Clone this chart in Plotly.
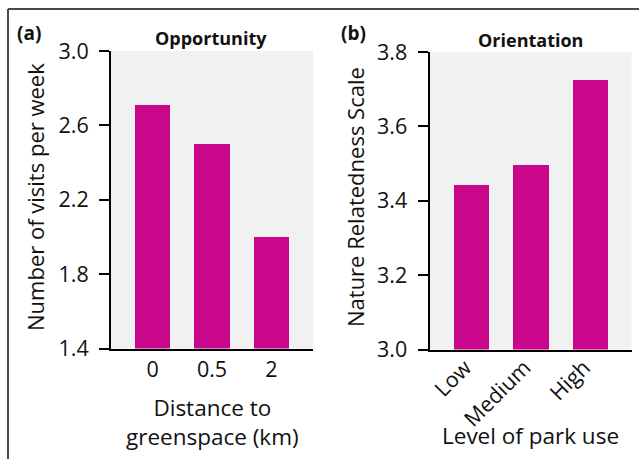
import plotly.graph_objects as go

# Data
distance_labels = ["0", "0.5", "2"]
visits_per_week = [2.71, 2.50, 2.00]

park_use_labels = ["Low", "Medium", "High"]
nature_relatedness = [3.443, 3.497, 3.725]

BAR = "#C8078A"
BG = "#F1F1F1"
FONT = "Open Sans"
TXT = "#111111"
W, H = 639, 459

def px_x(p):
    return p / W

def px_y(p):
    return 1 - p / H

fig = go.Figure()
fig.add_trace(go.Bar(x=list(range(3)), y=visits_per_week, marker_color=BAR, width=0.6,
                     xaxis="x", yaxis="y", showlegend=False, hoverinfo="skip"))
fig.add_trace(go.Bar(x=list(range(3)), y=nature_relatedness, marker_color=BAR, width=0.6,
                     xaxis="x2", yaxis="y2", showlegend=False, hoverinfo="skip"))

axis_common = dict(showgrid=False, zeroline=False, showline=True, linecolor="black",
                   linewidth=2, mirror=False, automargin=False,
                   tickfont=dict(family=FONT, size=21.5, color=TXT))

fig.update_layout(
    template="none",
    width=W, height=H, autosize=False,
    margin=dict(l=0, r=0, t=0, b=0, pad=0),
    paper_bgcolor="white",
    plot_bgcolor=BG,
    font=dict(family=FONT, color=TXT, size=20),
    bargap=0,
    xaxis=dict(domain=[px_x(111), px_x(313)], anchor="y", range=[-0.7, 2.7],
               tickmode="array", tickvals=[0, 1, 2], ticktext=distance_labels,
               ticks="", ticklabelstandoff=1, **axis_common),
    yaxis=dict(domain=[px_y(348.5), px_y(51)], anchor="x", range=[1.4, 3.0],
               tickmode="array", tickvals=[1.4, 1.8, 2.2, 2.6, 3.0],
               ticktext=["1.4", "1.8", "2.2", "2.6", "3.0"],
               ticks="outside", ticklen=10, tickwidth=2, tickcolor="black",
               ticklabelstandoff=6, **axis_common),
    xaxis2=dict(domain=[px_x(429.5), px_x(631.5)], anchor="y2", range=[-0.7, 2.7],
                tickmode="array", tickvals=[0, 1, 2], ticktext=park_use_labels,
                ticks="", tickangle=-45, ticklabelstandoff=-5, ticklabelshift=-6,
                **axis_common),
    yaxis2=dict(domain=[px_y(349.5), px_y(52)], anchor="x2", range=[3.0, 3.8],
                tickmode="array", tickvals=[3.0, 3.2, 3.4, 3.6, 3.8],
                ticktext=["3.0", "3.2", "3.4", "3.6", "3.8"],
                ticks="outside", ticklen=10, tickwidth=2, tickcolor="black",
                ticklabelstandoff=6, **axis_common),
)

ann = []
def add(text, x, y, size=20, bold=False, angle=0, xanchor="center", yanchor="middle"):
    ann.append(dict(text=f"<b>{text}</b>" if bold else text, x=px_x(x), y=px_y(y),
                    xref="paper", yref="paper", showarrow=False, textangle=angle,
                    xanchor=xanchor, yanchor=yanchor,
                    font=dict(family=FONT, size=size, color=TXT)))

add("(a)", 15, 33, size=19, bold=True, xanchor="left")
add("(b)", 339, 33, size=19, bold=True, xanchor="left")
add("Opportunity", 211, 38, size=18, bold=True)
add("Orientation", 530, 40, size=18, bold=True)
add("Number of visits per week", 35, 197, size=22, angle=-90)
add("Nature Relatedness Scale", 355, 197, size=22, angle=-90)
add("Distance to<br>greenspace (km)", 212, 422, size=22.5)
add("Level of park use", 530, 435, size=22.5)
fig.update_layout(annotations=ann)

fig.update_layout(shapes=[
    dict(type="line", xref="paper", yref="paper", x0=px_x(8), x1=1, y0=px_y(9), y1=px_y(9),
         line=dict(color="#4a4a4a", width=2)),
    dict(type="line", xref="paper", yref="paper", x0=px_x(8), x1=px_x(8), y0=px_y(9), y1=0,
         line=dict(color="#4a4a4a", width=2)),
])

fig.write_html(
    "out.html",
    config={"displayModeBar": False},
    post_script="document.body.style.margin='0';document.body.style.overflow='hidden';"
                "document.documentElement.style.overflow='hidden';",
)
